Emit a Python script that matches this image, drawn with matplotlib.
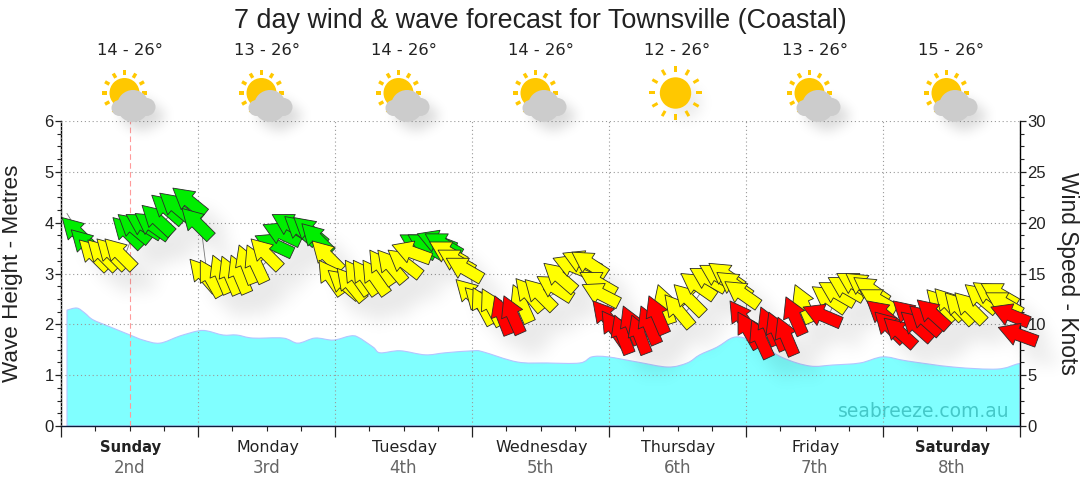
import numpy as np
import matplotlib
matplotlib.use('Agg')
import matplotlib.pyplot as plt
from matplotlib.path import Path
from matplotlib.patches import PathPatch, Circle
from matplotlib.collections import PathCollection
from matplotlib.lines import Line2D
from matplotlib.transforms import Affine2D, IdentityTransform
from matplotlib.ticker import MultipleLocator

title = '7 day wind & wave forecast for Townsville (Coastal)'
days = ['Sunday', 'Monday', 'Tuesday', 'Wednesday', 'Thursday', 'Friday', 'Saturday']
dates = ['2nd', '3rd', '4th', '5th', '6th', '7th', '8th']
bold_days = ['Sunday', 'Saturday']
temps = ['14 - 26°', '13 - 26°', '14 - 26°', '14 - 26°', '12 - 26°', '13 - 26°', '15 - 26°']
icons = ['cloud', 'cloud', 'cloud', 'cloud', 'sun', 'cloud', 'cloud']

wave_hours = [1.05, 2.8, 4.2, 5.6, 8.6, 12.1, 14.4, 17.3, 20.8, 24, 25.6, 28.4, 30.8, 33.6, 38.9, 41.5,
              44.5, 47.7, 50.6, 52, 54.7, 55.9, 59.4, 63.8, 67.3, 72.2, 73.9, 79.9, 85.1, 90.9, 93, 95.8,
              100.9, 106.3, 109.7, 111.9, 114.9, 118.1, 121.6, 126.5, 131.2, 135.2, 140, 144, 148.2,
              156.3, 164, 167.5, 168]
wave_m = [2.28, 2.32, 2.22, 2.09, 1.95, 1.79, 1.69, 1.63, 1.77, 1.87, 1.87, 1.79, 1.79, 1.73, 1.73, 1.63,
          1.73, 1.69, 1.77, 1.75, 1.55, 1.44, 1.48, 1.40, 1.44, 1.48, 1.46, 1.26, 1.24, 1.24, 1.36, 1.36,
          1.26, 1.16, 1.24, 1.40, 1.55, 1.75, 1.65, 1.34, 1.18, 1.20, 1.24, 1.36, 1.28,
          1.16, 1.12, 1.22, 1.22]

wind_hours = [0.2, 1.8, 3.2, 4.7, 6.3, 7.7, 9.1, 10, 11.4, 13, 14.2, 15.9, 17.3, 19.6, 21.2,
              22.6, 24.4, 26.6, 28.2, 29.8, 31.2, 32.6, 33.3, 34, 35.4, 37, 39.2, 40.8, 42.2,
              44, 45.2, 46.8, 48.4, 49.8, 51.2, 52.9, 54.1, 55.5, 57.3, 58, 59.4, 60.8, 62.4, 63.8,
              64.6, 66.05, 67.5, 69.2, 70.8, 72.2, 73.8, 76, 77.6, 79.2, 79.7, 81.3, 83.4,
              84.6, 86.2, 87.9, 89.5, 90.9, 91.3, 93.2, 94.8, 97, 98.5, 100, 101.6, 103,
              104.6, 105.8, 107.4, 108.6, 110.2, 111.9, 113.5, 114.9, 116.3, 117.2, 118.6, 121, 122.6, 124,
              125.6, 127, 128.6, 130, 131.6, 132.8, 134.4, 135.9, 137.5, 138.9, 140, 141.2, 142.6, 144.2,
              145.8, 147.2, 148.7, 150, 151.7, 153.1, 154.9, 156.6, 158.4, 159.8, 161.2, 162, 162.9, 164.2]
wind_kn = [20.5, 19.3, 18.3, 18.3, 18.4, 18.4, 20.5, 20.8, 20.8, 20.9, 21.7, 22.7, 22.9, 23.4, 21.4,
           16.4, 16.3, 16.8, 16.7, 16.8, 17.8, 17.8, 18.4, 18.7, 19.8, 20.8, 20.6, 20.5, 19.9,
           18.2, 16.3, 15.3, 15.5, 16.3, 16.3, 16.3, 17.3, 17.3, 17.3, 17.8, 18.8, 18.8, 18.9, 18.9,
           18.1, 17.3, 16.5, 14.4, 13.6, 13.6, 13.5, 12.8, 12.8, 13.9, 14.5, 14.4, 14.7,
           16.0, 16.5, 17.0, 17.1, 15.1, 13.9, 12.3, 11.3, 10.9, 11.8, 10.9, 11.8, 12.8,
           13.9, 12.9, 13.9, 15.0, 15.5, 15.8, 16.0, 15.1, 14.2, 12.3, 11.2, 10.4, 11.7, 11.2,
           10.7, 12.7, 13.9, 11.7, 13.7, 14.1, 14.6, 15.0, 15.0, 14.6, 13.4, 12.3, 11.2, 10.6,
           12.3, 11.2, 11.8, 12.4, 13.4, 13.5, 13.1, 13.1, 13.9, 14.1, 14.0, 13.1, 11.7, 9.7]
wind_dir = [135, 135, 135, 135, 135, 135, 135, 140, 149, 145, 137, 139, 140, 141, 135,
            131, 120, 113, 113, 113, 111, 115, 135, 155, 155, 150, 140, 140, 135,
            135, 125, 140, 130, 125, 125, 125, 125, 130, 142, 160, 150, 150, 159, 150,
            150, 150, 150, 135, 135, 118, 118, 111, 114, 114, 130, 135, 148,
            139, 158, 156, 147, 150, 153, 130, 125, 111, 113, 111, 113, 113,
            108, 130, 135, 145, 150, 150, 145, 145, 145, 125, 120, 115, 113, 113,
            113, 114, 113, 157, 145, 150, 150, 150, 145, 145, 150, 140, 135, 138,
            138, 138, 138, 138, 133, 133, 133, 135, 140, 145, 150, 150, 158, 160]
wind_col = list('GGYYYYGGGGGGGGG' 'YYYYYYYYGGGGGG' 'YYYYYYYYYYYGGGG' 'YYYYYYYRR'
                'YYYYYYYYYYRRRRRRR' 'YYYYYYYYYRRRRRRR' 'YR' 'YYYYYYY' 'RRRRRRR'
                'YYYYYYYY' 'RR')
# line lead-in reading at the left edge of the plot
line_lead_hour = [1.05]
line_lead_kn = [20.9]

COLS = {'G': '#00ee00', 'Y': '#ffff00', 'R': '#ff0000'}
ARROW_LEN, HEAD_LEN, HEAD_HW, SHAFT_HW = 41, 20, 11.5, 6

def arrow_path(angle):
    # anchored at the tip, pointing along +x before rotation
    verts = [(0, 0), (-HEAD_LEN, HEAD_HW), (-HEAD_LEN, SHAFT_HW), (-ARROW_LEN, SHAFT_HW),
             (-ARROW_LEN, -SHAFT_HW), (-HEAD_LEN, -SHAFT_HW), (-HEAD_LEN, -HEAD_HW), (0, 0)]
    return Path(verts, closed=True).transformed(Affine2D().rotate_deg(angle))

def gaussian(sigma):
    r = int(3 * sigma)
    k = np.exp(-0.5 * (np.arange(-r, r + 1) / sigma) ** 2)
    return k / k.sum()

def shadow_filter(dx, dy, sigma, strength):
    def flt(im, dpi):
        pad = int(3 * sigma) + max(dx, dy) + 2
        a = np.pad(im[:, :, 3], pad)
        k = gaussian(sigma)
        a = np.apply_along_axis(lambda m: np.convolve(m, k, mode='same'), 0, a)
        a = np.apply_along_axis(lambda m: np.convolve(m, k, mode='same'), 1, a)
        a = np.roll(np.roll(a, dx, axis=1), dy, axis=0)
        out = np.zeros(a.shape + (4,))
        out[:, :, 3] = np.clip(a * strength, 0, 1)
        return out, -pad, -pad
    return flt

def smooth_area(xs, ys):
    # Bezier outline through the readings, closed down to the baseline
    p = np.column_stack([xs, ys])
    q = np.vstack([p[0], p, p[-1]])
    verts, codes = [(xs[0], 0), p[0]], [Path.MOVETO, Path.LINETO]
    for i in range(1, len(q) - 2):
        verts += [q[i] + (q[i + 1] - q[i - 1]) / 6, q[i + 1] - (q[i + 2] - q[i]) / 6, q[i + 1]]
        codes += [Path.CURVE4] * 3
    verts += [(xs[-1], 0), (xs[0], 0)]
    codes += [Path.LINETO, Path.CLOSEPOLY]
    return Path(verts, codes)

plt.rcParams['font.family'] = ['Liberation Sans', 'DejaVu Sans']
fig = plt.figure(figsize=(10.8, 4.9), dpi=100)
W, H = 1080, 490
ax = fig.add_axes([61 / W, 1 - 426 / H, 959 / W, 305 / H])
ax.set_xlim(0, 168)
ax.set_ylim(0, 6)

ax.add_patch(PathPatch(smooth_area(wave_hours, wave_m), facecolor='#80ffff', edgecolor='#b4c4ff', lw=0.8, zorder=2))
ax.yaxis.set_major_locator(MultipleLocator(1))
ax.yaxis.set_minor_locator(MultipleLocator(0.25))
ax.xaxis.set_major_locator(MultipleLocator(24))
ax.xaxis.set_minor_locator(MultipleLocator(6))
ax.tick_params(axis='y', which='major', length=4.3, width=0.9, labelsize=12, pad=1, colors='#222222')
ax.tick_params(axis='y', which='minor', length=3, width=0.8, color='#222222')
ax.tick_params(axis='x', which='major', length=8, width=0.9, labelbottom=False, color='#222222')
ax.tick_params(axis='x', which='minor', length=3.5, width=0.8, color='#222222')
ax.grid(True, which='major', color='#999999', ls=(0, (1, 2.5)), lw=0.8, zorder=3)
ax.set_axisbelow(False)
for g in ax.get_xgridlines() + ax.get_ygridlines():
    g.set_zorder(3)
ax.spines['top'].set_visible(False)
ax.spines['left'].set_linewidth(1.0)
ax.spines['right'].set_linewidth(1.0)
ax.spines['bottom'].set_color('#0a1a3a')
ax.spines['bottom'].set_linewidth(1.0)
ax.axvline(12, color='#ff9a9a', ls=(0, (5, 3)), lw=0.8, zorder=3.5)

ax2 = ax.twinx()
ax2.set_ylim(0, 30)
ax2.yaxis.set_major_locator(MultipleLocator(5))
ax2.yaxis.set_minor_locator(MultipleLocator(1.25))
ax2.tick_params(axis='y', which='major', length=4.3, width=0.9, labelsize=12, pad=1, colors='#222222')
ax2.tick_params(axis='y', which='minor', length=3, width=0.8, color='#222222')
for s in ax2.spines.values():
    s.set_visible(False)
ax2.set_zorder(ax.get_zorder() + 1)
ax2.patch.set_visible(False)

fig.canvas.draw()
offsets = np.column_stack([wind_hours, wind_kn])
paths = [arrow_path(a) for a in wind_dir]

shadow = PathCollection(paths, offsets=offsets, offset_transform=ax2.transData, transform=IdentityTransform(),
                        facecolors='k', edgecolors='none', zorder=4, clip_on=False)
shadow.set_agg_filter(shadow_filter(10, 10, 6, 0.3))
ax2.add_collection(shadow, autolim=False)

# thin connector through the arrow shafts
disp = ax2.transData.transform(offsets)
rad = np.radians(wind_dir)
shaft = disp - 27 * np.column_stack([np.cos(rad), np.sin(rad)])
lead = ax2.transData.transform(np.column_stack([line_lead_hour, line_lead_kn]))
conn = np.vstack([lead, shaft])
ax2.add_line(Line2D(conn[:, 0], conn[:, 1], transform=IdentityTransform(), color='#777777', lw=0.6, zorder=5))

cols = np.array(wind_col)
for i, c in enumerate('GYR'):
    idx = np.where(cols == c)[0]
    pc = PathCollection([paths[j] for j in idx], offsets=offsets[idx], offset_transform=ax2.transData,
                        transform=IdentityTransform(), facecolors=COLS[c], edgecolors='#2a2a2a',
                        linewidths=0.6, zorder=6 + i, clip_on=False)
    ax2.add_collection(pc, autolim=False)

# overlay in pixel coordinates for the header and labels
ov = fig.add_axes([0, 0, 1, 1], zorder=20)
ov.set_xlim(0, W)
ov.set_ylim(H, 0)
ov.axis('off')

def draw_sun(cx, cy, r, r1, r2, n, start, hw):
    for t in np.radians(np.arange(n) * 360 / n + start):
        c, s = np.cos(t), np.sin(t)
        ov.fill([cx + r1 * c - hw * s, cx + r2 * c - hw * s, cx + r2 * c + hw * s, cx + r1 * c + hw * s],
                [cy + r1 * s + hw * c, cy + r2 * s + hw * c, cy + r2 * s - hw * c, cy + r1 * s - hw * c],
                color='#ffc800', lw=0, zorder=2)
    ov.add_patch(Circle((cx, cy), r, color='#ffc800', lw=0, zorder=2))

def draw_cloud(cx):
    parts = [Path.circle((cx - 10, 108), 8), Path.circle((cx + 3.5, 106), 16), Path.circle((cx + 17, 107), 9)]
    parts.append(Path.unit_rectangle().transformed(Affine2D().scale(27, 16).translate(cx - 10, 100)))
    return Path.make_compound_path(*parts)

for k in range(7):
    cx = 129.5 + 137 * k
    ov.text(cx, 50.5, temps[k], ha='center', va='center', fontsize=11.8, family='DejaVu Sans', color='#222222')
    bold = days[k] in bold_days
    ov.text(cx + 1, 447, days[k], ha='center', va='center', fontsize=10.6 if bold else 11.4, family='DejaVu Sans',
            color='#222222', fontweight='bold' if bold else 'normal')
    ov.text(cx, 468, dates[k], ha='center', va='center', fontsize=12, family='DejaVu Sans', color='#666666')
    if icons[k] == 'sun':
        disc = Circle((cx + 8, 103), 16, facecolor='k', edgecolor='none', zorder=1)
        disc.set_agg_filter(shadow_filter(0, 0, 7, 0.08))
        ov.add_patch(disc)
        draw_sun(cx - 2, 93, 15.7, 20.7, 26.7, 12, 0, 1.5)
    else:
        draw_sun(cx - 5, 93, 15, 17.5, 22.5, 12, 0, 1.7)
        cp = draw_cloud(cx)
        sh = PathPatch(cp, facecolor='k', edgecolor='none', zorder=1)
        sh.set_agg_filter(shadow_filter(9, 9, 6, 0.14))
        ov.add_patch(sh)
        ov.add_patch(PathPatch(cp, facecolor='#cccccc', edgecolor='none', zorder=3))

ov.text(540, 21, title, ha='center', va='center', fontsize=19.4, color='#222222')
ov.text(13, 273, 'Wave Height - Metres', rotation=90, ha='center', va='center', fontsize=16.2, color='#222222')
ov.text(1067, 273, 'Wind Speed - Knots', rotation=270, ha='center', va='center', fontsize=16.4, color='#222222')
ov.text(1010, 411, 'seabreeze.com.au', ha='right', va='center', fontsize=13.5, family='DejaVu Sans', color='#45c8c8')

fig.savefig('out.png', dpi=100)
